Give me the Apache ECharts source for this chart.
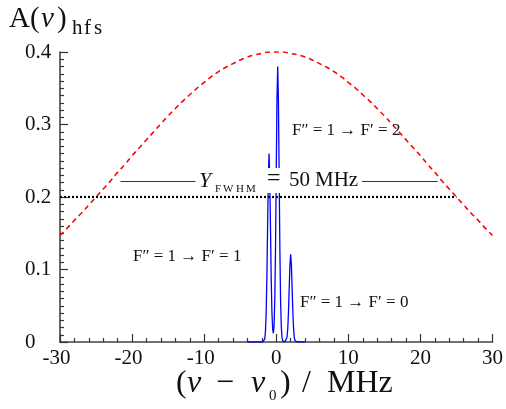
<!DOCTYPE html>
<html><head><meta charset="utf-8">
<script src="https://cdn.jsdelivr.net/npm/echarts@6.0.0/dist/echarts.min.js"></script>
<style>html,body{margin:0;padding:0;background:#fff}#c{width:506px;height:409px}</style>
</head><body><div id="c"></div>
<script>
// hyperfine spectrum (blue), MHz vs amplitude
const hfsX = [-4.0,-3.9,-3.8,-3.7,-3.6,-3.5,-3.4,-3.3,-3.2,-3.1,-3.0,-2.9,-2.8,-2.7,-2.6,-2.5,-2.4,-2.3,-2.2,-2.1,-2.0,-1.9,
  -1.8,-1.7,-1.6,-1.5,-1.4,-1.3,-1.2,-1.1,-1.0,-0.9,-0.8,-0.7,-0.6,-0.5,-0.4,-0.3,-0.2,-0.1,0.0,
  0.1,0.2,0.3,0.4,0.5,0.6,0.7,0.8,0.9,1.0,1.1,1.2,1.3,1.4,1.5,1.6,1.7,1.8,1.9,2.0,
  2.1,2.2,2.3,2.4,2.5,2.6,2.7,2.8,2.9,3.0,3.1,3.2,3.3,3.4,3.5,3.6,3.7,3.8,3.9,4.0];
const hfsY = [0,0,0,0,0,0,0,0,0,0,0,0,0,0,0,0,0,0,0,0,0,0,
  0.0002,0.0010,0.0040,0.0140,0.0400,0.0880,0.1580,0.2260,0.2600,0.2260,0.1580,0.0880,0.0410,0.0180,0.0120,0.0230,0.0590,0.1300,0.2330,
  0.3340,0.3800,0.3340,0.2330,0.1300,0.0580,0.0210,0.0060,0.0015,0.0003,0,0,0.0005,0.0020,0.0068,0.0190,0.0420,0.0750,0.1065,0.1210,
  0.1065,0.0750,0.0420,0.0190,0.0068,0.0020,0.0005,0,0,0,0,0,0,0,0,0,0,0,0,0];
// Doppler envelope (red dashed)
const envX = [-30,-29,-28,-27,-26,-25,-24,-23,-22,-21,-20,-19,-18,-17,-16,-15,-14,-13,-12,-11,-10,-9,-8,-7,-6,-5,-4,-3,-2,-1,0,
  1,2,3,4,5,6,7,8,9,10,11,12,13,14,15,16,17,18,19,20,21,22,23,24,25,26,27,28,29,30];
const envY = [0.147,0.157,0.168,0.178,0.189,0.200,0.211,0.222,0.234,0.245,0.257,0.268,0.279,0.290,0.301,0.312,0.322,0.332,0.341,0.350,
  0.358,0.366,0.373,0.379,0.384,0.389,0.393,0.396,0.398,0.400,0.400,
  0.400,0.398,0.396,0.393,0.389,0.384,0.379,0.373,0.366,0.358,0.350,0.341,0.332,0.322,0.312,0.301,0.290,0.279,0.268,0.257,
  0.245,0.234,0.222,0.211,0.200,0.189,0.178,0.168,0.157,0.147];
// FWHM level line
const fwhmX = [-30, 25];
const fwhmY = [0.2, 0.2];
const xTicks = [-30,-20,-10,0,10,20,30];
const yTicks = [0,0.1,0.2,0.3,0.4];

const F = '"Liberation Serif", "DejaVu Serif", serif';
const chart = echarts.init(document.getElementById('c'), null, {renderer:'canvas'});
const zip = (a,b)=>a.map((v,i)=>[v,b[i]]);
const axisCol = '#444';
const tickStyle = {color:'#333',width:1.2};
const T = (x,y,text,font)=>({type:'text',x:x,y:y,z:110,style:{text:text,font:font+' '+F,fill:'#111',textVerticalAlign:'top'}});
chart.setOption({
  animation:false,
  backgroundColor:'#fff',
  grid:{left:60,right:11,top:52,bottom:67,containLabel:false},
  xAxis:{type:'value',min:xTicks[0],max:xTicks[xTicks.length-1],interval:10,
    axisLine:{show:true,onZero:false,lineStyle:{color:axisCol,width:1.6}},
    axisTick:{show:true,inside:true,length:8,lineStyle:tickStyle},
    minorTick:{show:true,splitNumber:5,length:4,lineStyle:tickStyle},
    splitLine:{show:false},minorSplitLine:{show:false},
    axisLabel:{fontFamily:F,fontSize:21,color:'#111',margin:6,
      formatter:v=>v<0?(v+'{p|}'):String(v),
      rich:{p:{width:7}}}},
  yAxis:{type:'value',min:yTicks[0],max:yTicks[yTicks.length-1],interval:0.1,
    axisLine:{show:true,onZero:false,lineStyle:{color:axisCol,width:1.6}},
    axisTick:{show:true,inside:true,length:8,lineStyle:tickStyle},
    minorTick:{show:true,splitNumber:10,length:4,lineStyle:tickStyle},
    splitLine:{show:false},minorSplitLine:{show:false},
    axisLabel:{fontFamily:F,fontSize:21,color:'#111',margin:35,align:'left',
      formatter:v=>v===0?'0':v.toFixed(1)}},
  series:[
    {type:'line',data:zip(envX,envY),showSymbol:false,smooth:true,
      lineStyle:{color:'#ff0000',width:1.6,type:[5,4]},z:2},
    {type:'line',data:zip(hfsX,hfsY),showSymbol:false,
      lineStyle:{color:'#0000ff',width:1.3},z:3},
    {type:'line',data:zip(fwhmX,fwhmY),showSymbol:false,
      lineStyle:{color:'#000',width:2.2,type:[2,2]},z:4,
      markLine:{silent:true,symbol:['none','none'],label:{show:false},
        lineStyle:{color:'#333',width:1,type:'solid'},
        data:[[{coord:[-21.6,0.222]},{coord:[-11.2,0.222]}],
              [{coord:[11.9,0.222]},{coord:[22.4,0.222]}]]}}
  ],
  graphic:[
    // white box behind the FWHM annotation (masks the peaks as in the original)
    {type:'rect',z:100,shape:{x:198,y:168,width:162,height:25},style:{fill:'#fff'}},
    // y-axis title A(ν)_hfs
    T(9,5,'A(','29px'), T(41,5,'ν','italic 29px'), T(57,5,')','29px'),
    T(72,18,'h','21px'), T(84,18,'f','21px'), T(94,18,'s','21px'),
    // x-axis title (ν − ν0) / MHz
    T(176,368,'(','32px'), T(187,368,'ν','italic 32px'), T(216,368,'−','32px'),
    T(251,368,'ν','italic 32px'), T(269,389,'0','15px'), T(280,368,')','32px'),
    T(302,368,'/','32px'), T(327,368,'MHz','32px'),
    // FWHM annotation
    T(199,170,'Y','italic 22px'),
    T(215,184,'F','11px'), T(223,184,'W','11px'), T(236,184,'H','11px'), T(246,184,'M','11px'),
    T(267,167,'=','24px'), T(289,170,'50','21px'), T(315,170,'MHz','21px'),
    // transition labels
    T(292,122,'F″ = 1 → F′ = 2','17px'),
    T(133,248,'F″ = 1 → F′ = 1','17px'),
    T(300,294,'F″ = 1 → F′ = 0','17px')
  ]
});
</script></body></html>
